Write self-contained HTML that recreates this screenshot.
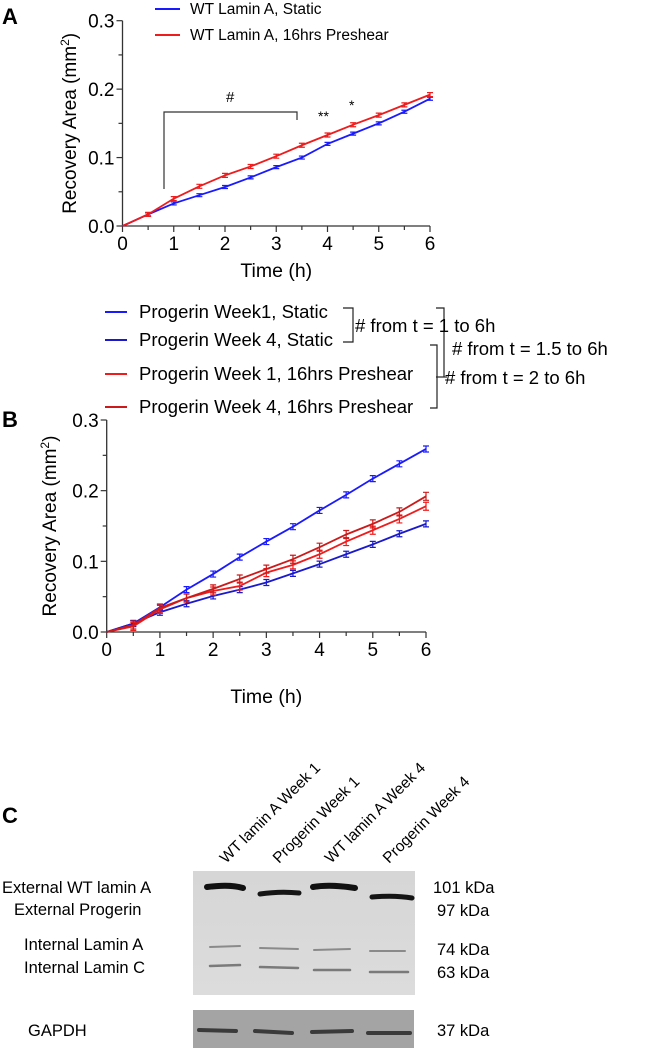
<!DOCTYPE html>
<html><head><meta charset="utf-8">
<style>
body{margin:0;background:#fff;}
svg{display:block;font-family:"Liberation Sans",Arial,sans-serif;}
</style></head>
<body>
<svg width="651" height="1058" viewBox="0 0 651 1058">
<defs>
<linearGradient id="blotg" x1="0" x2="0" y1="0" y2="1"><stop offset="0" stop-color="#d6d6d6"/><stop offset="1" stop-color="#dcdcdc"/></linearGradient>
</defs>
<g id="panelA"></g>
<g id="panelB"></g>

<text x="2" y="24" font-size="22" font-weight="bold">A</text>
<g font-size="15.5">
<line x1="155" y1="9" x2="180" y2="9" stroke="#1a1aff" stroke-width="2"/>
<text x="190" y="14">WT Lamin A, Static</text>
<line x1="155" y1="35" x2="180" y2="35" stroke="#ee1c1c" stroke-width="2"/>
<text x="190" y="40">WT Lamin A, 16hrs Preshear</text>
</g>
<g stroke="#333" fill="none" stroke-width="1.2">
<polyline points="164,189 164,112 297,112 297,120"/>
</g>
<text x="226" y="102" font-size="15">#</text>
<text x="318" y="121" font-size="14">**</text>
<text x="349" y="110" font-size="14">*</text>

<g font-size="18.5">
<line x1="105" y1="312" x2="127" y2="312" stroke="#1a1aff" stroke-width="2"/>
<text x="139" y="318">Progerin Week1, Static</text>
<line x1="105" y1="340" x2="127" y2="340" stroke="#1a1acc" stroke-width="2"/>
<text x="139" y="346">Progerin Week 4, Static</text>
<line x1="105" y1="374" x2="127" y2="374" stroke="#ee1c1c" stroke-width="2"/>
<text x="139" y="380">Progerin Week 1, 16hrs Preshear</text>
<line x1="105" y1="407" x2="127" y2="407" stroke="#cc1a1a" stroke-width="2"/>
<text x="139" y="413">Progerin Week 4, 16hrs Preshear</text>
<g stroke="#222" fill="none" stroke-width="1.2">
<polyline points="343,308 353,308 353,342 343,342"/>
<polyline points="436,308 444,308 444,377"/>
<line x1="436" y1="377" x2="447" y2="377"/>
<polyline points="430,345 437,345 437,408 430,408"/>
</g>
<text x="355" y="332"># from t = 1 to 6h</text>
<text x="452" y="355"># from t = 1.5 to 6h</text>
<text x="445" y="384"># from t = 2 to 6h</text>
</g>
<text x="2" y="427" font-size="22" font-weight="bold">B</text>

<text x="2" y="823" font-size="22" font-weight="bold">C</text>
<g font-size="15.5">
<text transform="translate(226,864) rotate(-45)">WT lamin A Week 1</text>
<text transform="translate(279,864) rotate(-45)">Progerin Week 1</text>
<text transform="translate(331,864) rotate(-45)">WT lamin A Week 4</text>
<text transform="translate(389,864) rotate(-45)">Progerin Week 4</text>
</g>
<g>
<rect x="193" y="871" width="222" height="124" fill="url(#blotg)"/>
<g fill="none" stroke-linecap="round">
<path d="M207,887 Q230,884 243,888" stroke="#111" stroke-width="6"/>
<path d="M260,894 Q280,891 299,893" stroke="#151515" stroke-width="5"/>
<path d="M313,887 Q330,884 355,888" stroke="#111" stroke-width="6"/>
<path d="M372,897 Q395,895 412,898" stroke="#151515" stroke-width="5"/>
<g stroke="#8a8a8a" stroke-width="2">
<path d="M210,947 L240,946"/><path d="M260,948 L298,949"/><path d="M314,950 L350,949"/><path d="M370,951 L405,951"/>
</g>
<g stroke="#7a7a7a" stroke-width="2.5">
<path d="M210,966 L240,965"/><path d="M260,967 L298,968"/><path d="M314,970 L350,970"/><path d="M370,972 L408,972"/>
</g>
</g>
<rect x="193" y="1010" width="221" height="38" fill="#a4a4a4"/>
<g fill="none" stroke="#3a3a3a" stroke-width="4" stroke-linecap="round">
<path d="M199,1030 L236,1031"/><path d="M255,1031 L292,1033"/><path d="M312,1032 L352,1031"/><path d="M368,1033 L410,1033"/>
</g>
</g>
<g font-size="16.5">
<text x="2" y="893">External WT lamin A</text>
<text x="14" y="915">External Progerin</text>
<text x="24" y="950">Internal  Lamin A</text>
<text x="24" y="973">Internal  Lamin C</text>
<text x="28" y="1036">GAPDH</text>
<text x="433" y="893">101 kDa</text>
<text x="437" y="916">97 kDa</text>
<text x="437" y="955">74 kDa</text>
<text x="437" y="978">63 kDa</text>
<text x="437" y="1036">37 kDa</text>
</g>
</svg>
<script>
const times=[0,0.5,1,1.5,2,2.5,3,3.5,4,4.5,5,5.5,6];
const aStatic=[0,0.017,0.033,0.045,0.057,0.071,0.086,0.100,0.120,0.135,0.150,0.167,0.186];
const aPreshear=[0,0.017,0.040,0.058,0.074,0.087,0.102,0.118,0.133,0.148,0.162,0.177,0.192];
const bW1Static=[0,0.012,0.035,0.060,0.082,0.106,0.128,0.149,0.172,0.194,0.217,0.238,0.259];
const bW4Static=[0,0.012,0.028,0.040,0.051,0.060,0.070,0.083,0.096,0.110,0.124,0.139,0.153];
const bW1Pre=[0,0.008,0.032,0.048,0.058,0.065,0.084,0.095,0.110,0.128,0.144,0.160,0.178];
const bW4Pre=[0,0.010,0.034,0.048,0.061,0.075,0.089,0.103,0.120,0.138,0.153,0.170,0.192];
const xTicks=[0,1,2,3,4,5,6];
const yTicks=["0.0","0.1","0.2","0.3"];
const NS='http://www.w3.org/2000/svg';
function el(tag,attrs,parent){const e=document.createElementNS(NS,tag);for(const k in attrs)e.setAttribute(k,attrs[k]);parent.appendChild(e);return e;}
function drawChart(g,cfg){
 const sx=t=>cfg.x0+t*(cfg.x6-cfg.x0)/6;
 const sy=v=>cfg.y0-v*(cfg.y0-cfg.y3)/0.3;
 const ax=el('path',{d:`M${sx(0)},${sy(0.3)} L${sx(0)},${sy(0)} L${sx(6)},${sy(0)}`,stroke:'#333',fill:'none','stroke-width':1.3},g);
 
 
 for(let i=0;i<=12;i++){const t=i*0.5;el('line',{x1:sx(t),x2:sx(t),y1:sy(0),y2:sy(0)+(i%2?4:6),stroke:'#333','stroke-width':1.2},g);}
 for(let i=0;i<=6;i++){const v=i*0.05;el('line',{x1:sx(0),x2:sx(0)-(i%2?4:6),y1:sy(v),y2:sy(v),stroke:'#333','stroke-width':1.2},g);}
 xTicks.forEach(t=>{const tx=el('text',{x:sx(t),y:sy(0)+24,'font-size':19,'text-anchor':'middle'},g);tx.textContent=t;
  
  });
 yTicks.forEach((s,i)=>{const tx=el('text',{x:sx(0)-8,y:sy(i*0.1)+7,'font-size':19,'text-anchor':'end'},g);tx.textContent=s;
  
  });
 const xt=el('text',{x:(sx(0)+sx(6))/2,y:sy(0)+cfg.xtOff,'font-size':19.5,'text-anchor':'middle'},g);xt.textContent='Time (h)';
 
 
 const yt=el('text',{transform:`translate(${cfg.ytX},${(sy(0)+sy(0.3))/2}) rotate(-90)`,'font-size':19,'text-anchor':'middle'},g);
 yt.innerHTML='Recovery Area (mm<tspan dy="-7" font-size="12">2</tspan><tspan dy="7">)</tspan>';
 
 
 cfg.series.forEach(s=>{
  const p=el('polyline',{points:times.map((t,i)=>sx(t)+','+sy(s.v[i])).join(' '),stroke:s.c,fill:'none','stroke-width':1.8},g);
  
  
  times.forEach((t,i)=>{if(i===0)return;const x=sx(t),y=sy(s.v[i]),e=s.e;
   el('path',{d:`M${x},${y-e} L${x},${y+e} M${x-3},${y-e} L${x+3},${y-e} M${x-3},${y+e} L${x+3},${y+e}`,stroke:s.c,'stroke-width':1.2,fill:'none'},g);});
 });
}
drawChart(document.getElementById('panelA'),{x0:122.5,x6:430,y0:226,y3:20.7,xtOff:51,ytX:76,series:[
 {v:aStatic,c:'#1a1aff',e:1.5,name:'line-wt-static'},{v:aPreshear,c:'#ee1c1c',e:2,name:'line-wt-preshear'}]});
drawChart(document.getElementById('panelB'),{x0:106.7,x6:426,y0:632,y3:420,xtOff:71,ytX:56,series:[
 {v:bW1Static,c:'#1a1aff',e:3,name:'line-pw1-static'},{v:bW4Static,c:'#1a1acc',e:3,name:'line-pw4-static'},
 {v:bW1Pre,c:'#ee1c1c',e:4,name:'line-pw1-preshear'},{v:bW4Pre,c:'#cc1a1a',e:4,name:'line-pw4-preshear'}]});
</script>
</body></html>
